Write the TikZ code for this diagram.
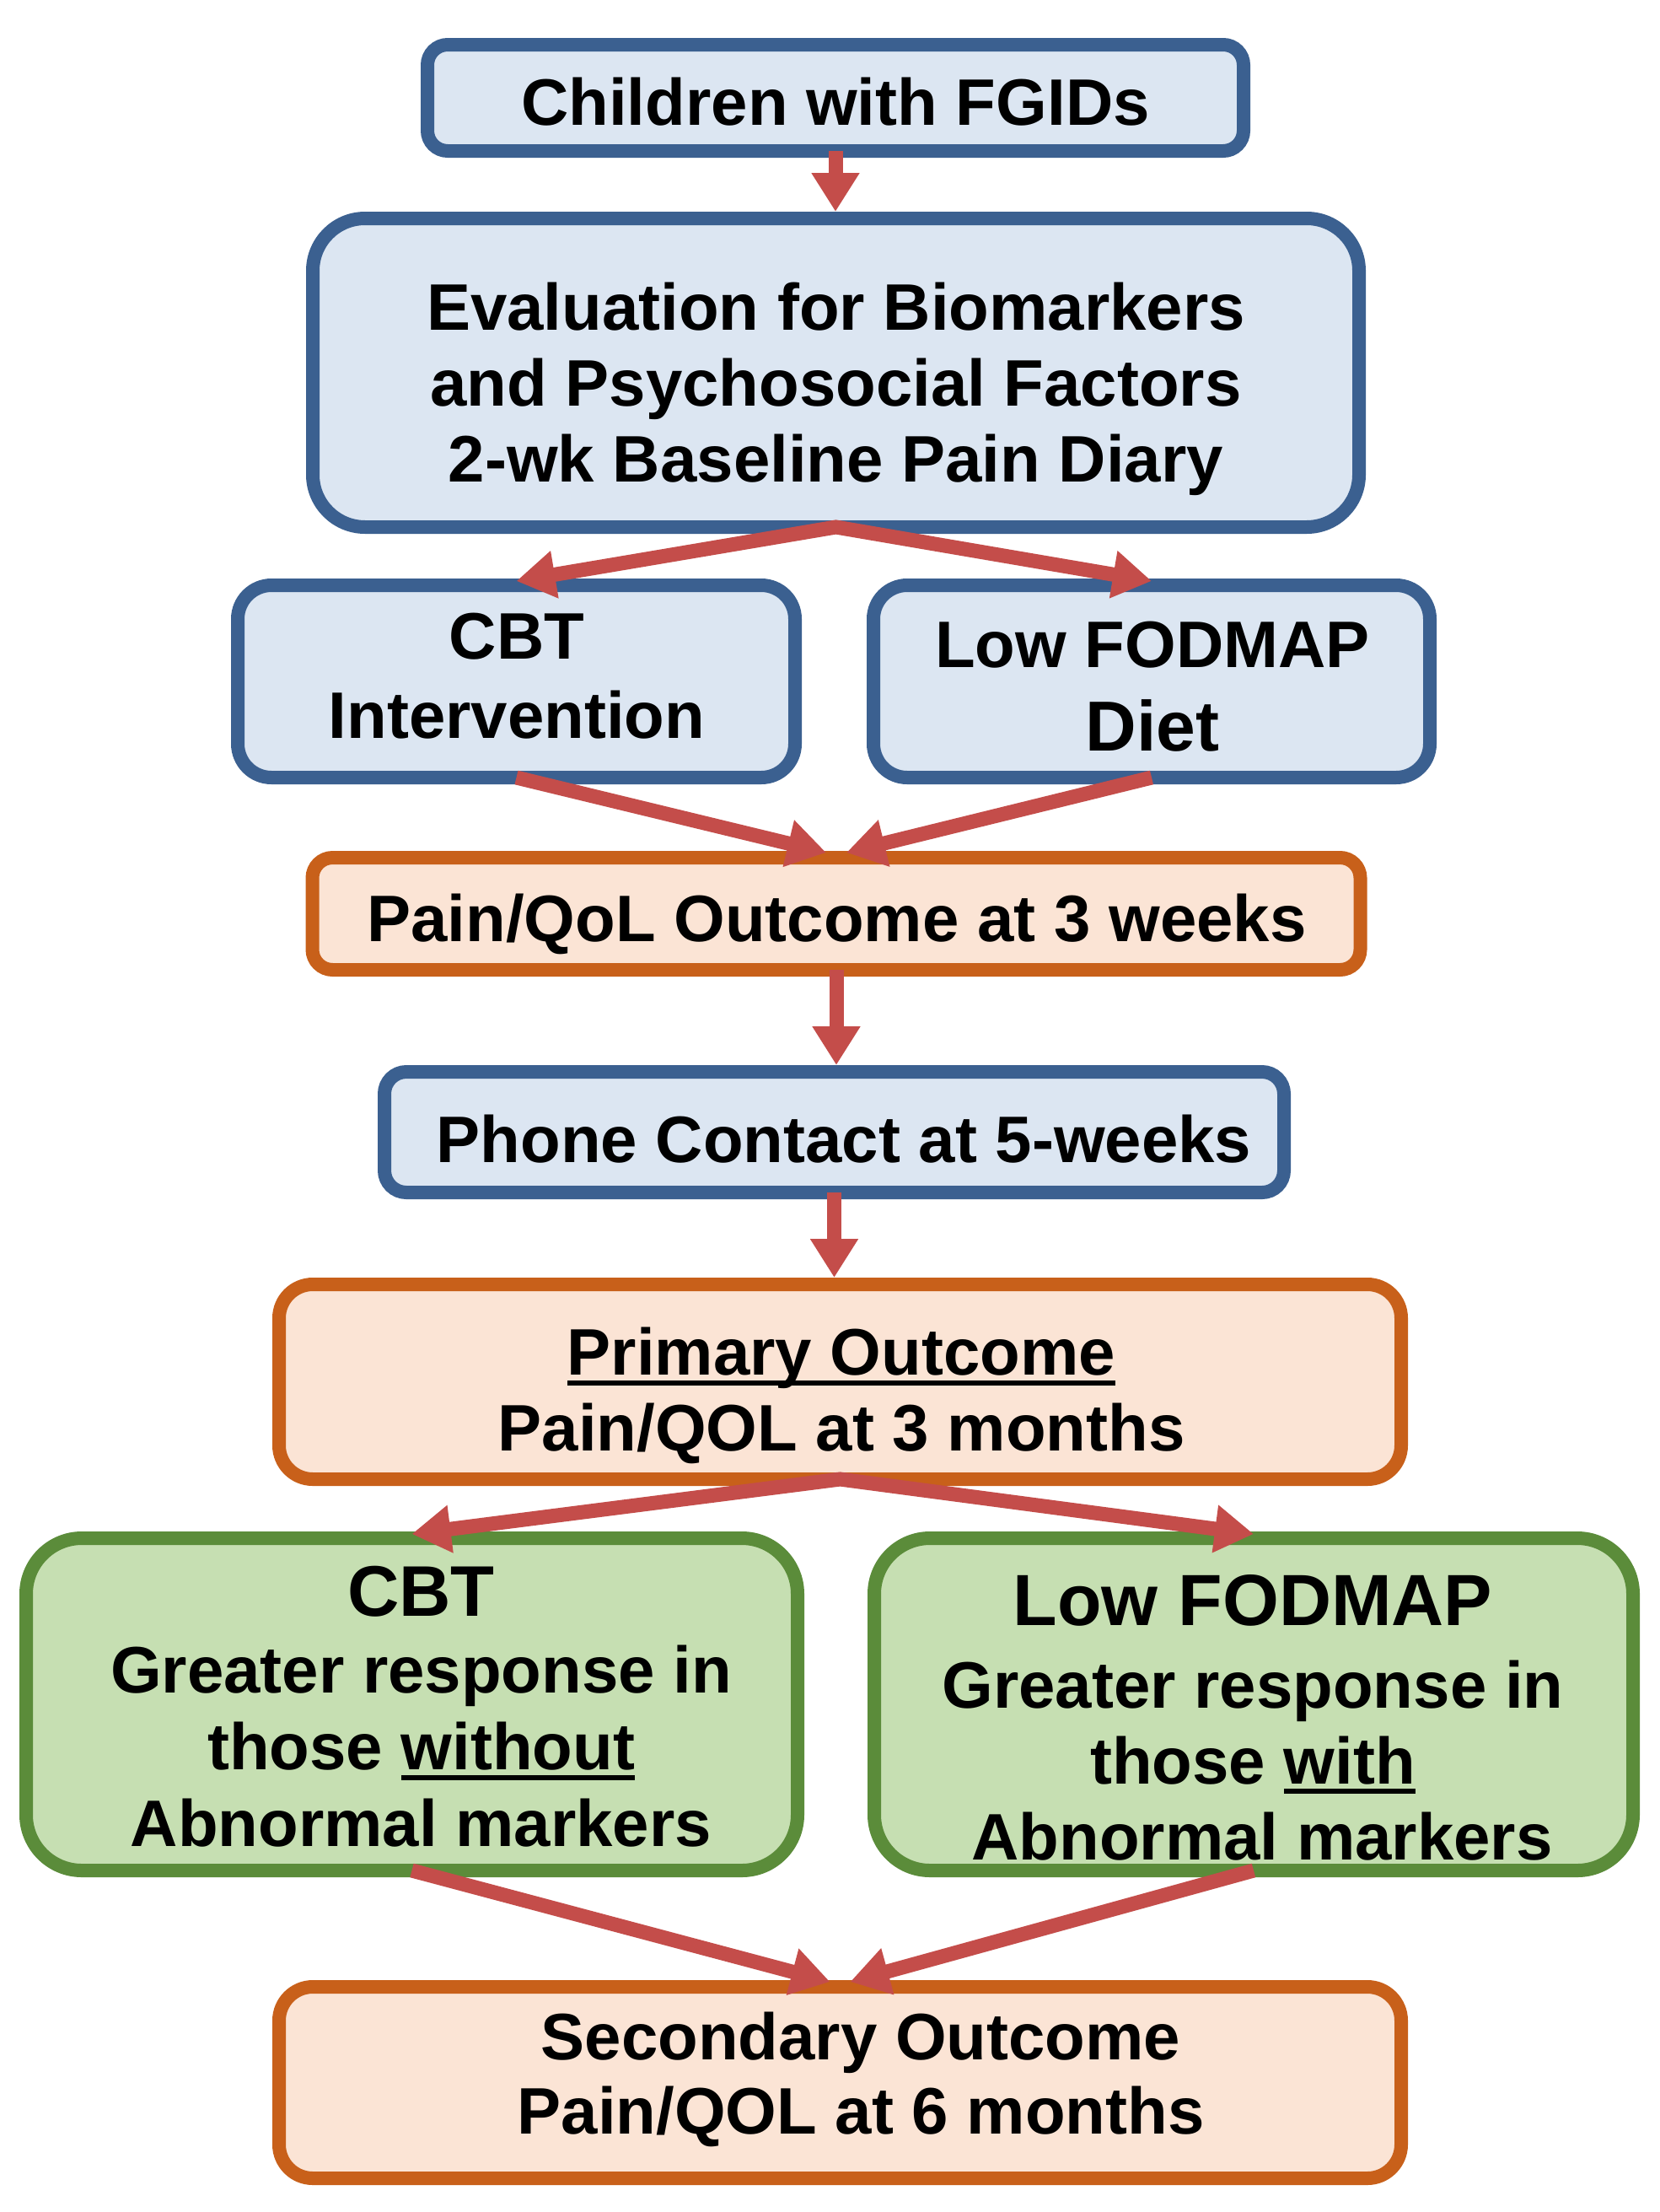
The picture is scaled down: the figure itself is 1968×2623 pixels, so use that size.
\documentclass[tikz,border=0pt]{standalone}
\usepackage{fontspec}
\setmainfont{Liberation Sans}
\usetikzlibrary{arrows.meta}
\definecolor{bblue}{HTML}{3B6090}
\definecolor{fblue}{HTML}{DCE6F2}
\definecolor{borange}{HTML}{C8601A}
\definecolor{forange}{HTML}{FBE4D5}
\definecolor{bgreen}{HTML}{5B8C3A}
\definecolor{fgreen}{HTML}{C6DFB2}
\definecolor{arrowred}{HTML}{C44D4A}
\newcommand\myul[1]{\setbox0=\hbox{#1}\rlap{\rule[-12pt]{\wd0}{6pt}}\box0}
\begin{document}
\begin{tikzpicture}[x=1pt,y=-1pt,
  basebox/.style={rectangle, line width=16pt, inner sep=0pt, outer sep=0pt},
  bluebox/.style={basebox, draw=bblue, fill=fblue},
  orangebox/.style={basebox, draw=borange, fill=forange},
  greenbox/.style={basebox, draw=bgreen, fill=fgreen},
  txt/.style={align=center, inner sep=0pt, font=\bfseries\fontsize{78}{90}\selectfont},
  conn/.style={draw=arrowred, line width=17pt, line join=miter, -{Triangle[width=54pt,length=46pt]}},
  conntwo/.style={draw=arrowred, line width=17pt, line join=miter, {Triangle[width=54pt,length=46pt]}-{Triangle[width=54pt,length=46pt]}}
]
\useasboundingbox[fill=white] (0,0) rectangle (1968,2623);

% boxes
\node[bluebox, minimum width=968pt, minimum height=126pt, rounded corners=24pt] (b1) at (991,116) {};
\node[bluebox, minimum width=1241pt, minimum height=366pt, rounded corners=62pt] (b2) at (991.5,442) {};
\node[bluebox, minimum width=661pt, minimum height=228pt, rounded corners=40pt] (b3) at (612.5,808) {};
\node[bluebox, minimum width=660pt, minimum height=228pt, rounded corners=40pt] (b4) at (1366,808) {};
\node[orangebox, minimum width=1243pt, minimum height=133pt, rounded corners=24pt] (b5) at (992,1083.5) {};
\node[bluebox, minimum width=1067pt, minimum height=143pt, rounded corners=26pt] (b6) at (989.5,1342.5) {};
\node[orangebox, minimum width=1331pt, minimum height=231pt, rounded corners=40pt] (b7) at (996.5,1638.5) {};
\node[greenbox, minimum width=915pt, minimum height=394pt, rounded corners=66pt] (b8) at (488.5,2021) {};
\node[greenbox, minimum width=900pt, minimum height=394pt, rounded corners=66pt] (b9) at (1487,2021) {};
\node[orangebox, minimum width=1331pt, minimum height=227pt, rounded corners=40pt] (b10) at (996.5,2469.5) {};

% texts
\node[txt] (t1) at (991,121) {Children with FGIDs};
\node[txt] (t2) at (991.5,461.5) {Evaluation for Biomarkers\\and Psychosocial Factors\\2-wk Baseline Pain Diary};
\node[txt, font=\bfseries\fontsize{78}{94}\selectfont] (t3) at (613,802) {CBT\\Intervention};
\node[txt, font=\bfseries\fontsize{78}{99}\selectfont] (t4) at (1367,814.5) {Low FODMAP\\{\fontsize{84}{99}\selectfont Diet}};
\node[txt] (t5) at (992.5,1096) {Pain/QoL Outcome at 3 weeks};
\node[txt] (t6) at (1001,1351) {Phone Contact at 5-weeks};
\node[txt] (t7) at (998,1655) {\myul{Primary Outcome}\\Pain/QOL at 3 months};
\node[txt, font=\bfseries\fontsize{78}{91}\selectfont] (t8) at (499.5,2024) {{\fontsize{85}{91}\selectfont CBT}\\Greater response in\\those \myul{without}\\Abnormal markers};
\node[txt, font=\bfseries\fontsize{78}{90}\selectfont] (t9) at (1486,2036.5) {{\fontsize{86}{90}\selectfont Low FODMAP}\\[8pt]Greater response in\\those \myul{with}\\\hspace*{22pt}Abnormal markers};
\node[txt, font=\bfseries\fontsize{78}{88}\selectfont] (t10) at (1021,2466) {Secondary Outcome\\Pain/QOL at 6 months};

% connectors
\draw[conn] (b1.south) -- ([yshift=8pt]b1.south |- b2.north);
\draw[conntwo] ([yshift=5pt]b3.north) -- (b2.south) -- ([yshift=5pt]b4.north);
\draw[conn] (b3.south) -- ([xshift=-12pt,yshift=6pt]b5.north);
\draw[conn] (b4.south) -- ([xshift=12pt,yshift=6pt]b5.north);
\draw[conn] (b5.south) -- ([yshift=8pt]b5.south |- b6.north);
\draw[conn] (b6.south) -- ([yshift=8pt]b6.south |- b7.north);
\draw[conntwo] ([yshift=5pt]b8.north) -- (b7.south) -- ([yshift=5pt]b9.north);
\draw[conn] (b8.south) -- ([xshift=-12pt,yshift=6pt]b10.north);
\draw[conn] (b9.south) -- ([xshift=12pt,yshift=6pt]b10.north);
\end{tikzpicture}
\end{document}
